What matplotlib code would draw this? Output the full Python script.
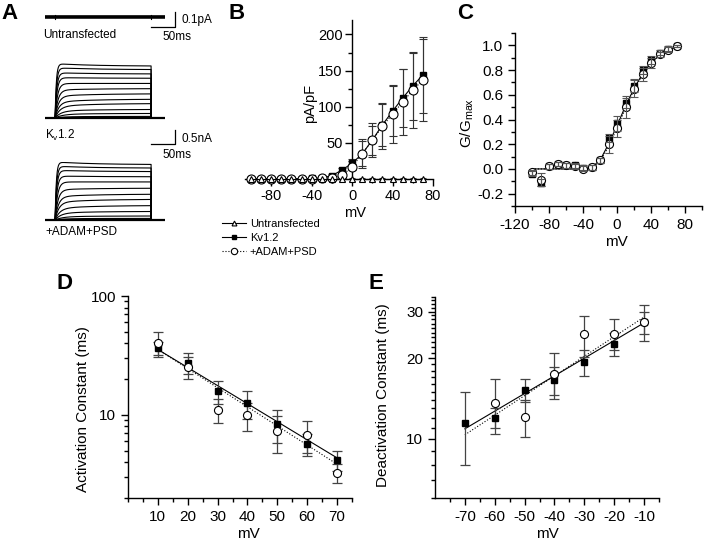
"""
Kv1.2 currents: traces, I-V, G-V and kinetics (panels A-E)
"""

import numpy as np
import matplotlib
matplotlib.use('Agg')
import matplotlib.pyplot as plt
from matplotlib.ticker import FixedLocator, NullFormatter, FixedFormatter

plt.rcParams['font.family'] = ['Liberation Sans', 'DejaVu Sans']
plt.rcParams['axes.unicode_minus'] = False
plt.rcParams['axes.linewidth'] = 1.0
plt.rcParams['xtick.direction'] = 'out'
plt.rcParams['ytick.direction'] = 'out'
plt.rcParams['xtick.major.size'] = 5
plt.rcParams['ytick.major.size'] = 5
plt.rcParams['xtick.minor.size'] = 3
plt.rcParams['ytick.minor.size'] = 3
plt.rcParams['xtick.major.width'] = 1.0
plt.rcParams['ytick.major.width'] = 1.0
plt.rcParams['xtick.minor.width'] = 1.0
plt.rcParams['ytick.minor.width'] = 1.0

# ---------------- data ----------------
# A: current traces (steady amplitude nA, activation tau ms, slow fraction)
step_ms = 200
kv_amp = [1.92, 1.79, 1.63, 1.47, 1.28, 1.09, 0.90, 0.70, 0.54, 0.32, 0.17, 0.06]
adam_amp = [2.05, 1.92, 1.79, 1.60, 1.41, 1.18, 0.96, 0.77, 0.54, 0.32, 0.15, 0.06]
trace_tau = [2.5, 3, 3.5, 4, 5, 6, 7, 8, 10, 12, 15, 18]
trace_slow = [-0.05, -0.04, -0.03, -0.02, 0.0, 0.05, 0.1, 0.15, 0.2, 0.2, 0.2, 0.2]

# B: current density (pA/pF)
iv_mv = [-100, -90, -80, -70, -60, -50, -40, -30, -20, -10, 0, 10, 20, 30, 40, 50, 60, 70]
iv_untr = [0, 0, 0, 0, 0, 0, 0, 0, 0, 0, 0, 0, 0, 0, 0, 0, 0, 0]
iv_untr_err = [2, 2, 2, 2, 2, 2, 2, 2, 2, 2, 2, 2, 2, 2, 2, 2, 2, 2]
iv_kv = [0.5, 0.5, 0.5, 0.5, 0.5, 0.6, 0.8, 1.5, 4.7, 12.6, 21.9, 35, 54, 75, 94, 112, 129, 144]
iv_kv_err = [1, 1, 1, 1, 1, 1, 1, 1, 2, 3, 6, 20, 24, 29, 35, 40, 47, 53]
iv_adam = [0.3, 0.3, 0.3, 0.3, 0.3, 0.3, 0.5, 1, 2, 5, 17, 35, 53.5, 73, 90, 106.5, 123, 137]
iv_adam_err = [1, 1, 1, 1, 1, 1, 1, 1, 1.5, 3, 4, 17, 20, 32, 40, 46, 52, 57]

# C: normalised conductance
gv_kv = [-0.04, -0.11, 0.02, 0.04, 0.03, 0.03, 0.01, 0.015, 0.07, 0.25, 0.37, 0.53,
         0.675, 0.80, 0.88, 0.94, 0.973, 0.995]
gv_kv_err = [0.02, 0.03, 0.02, 0.02, 0.02, 0.02, 0.02, 0.02, 0.02, 0.03, 0.06, 0.04,
             0.05, 0.03, 0.03, 0.02, 0.02, 0.01]
gv_adam = [-0.027, -0.086, 0.02, 0.04, 0.03, 0.02, 0.0, 0.015, 0.07, 0.2, 0.33, 0.5,
           0.65, 0.765, 0.857, 0.927, 0.965, 0.995]
gv_adam_err = [0.02, 0.05, 0.02, 0.02, 0.02, 0.02, 0.02, 0.02, 0.02, 0.07, 0.07, 0.09,
               0.07, 0.05, 0.04, 0.02, 0.02, 0.01]
gv_fit_kv = [0, 0, 0, 0, 0, 0, 0, 0.01, 0.07, 0.2, 0.35, 0.51, 0.65, 0.77, 0.86, 0.92, 0.96, 0.99]
gv_fit_adam = [0, 0, 0, 0, 0, 0, 0, 0.005, 0.06, 0.18, 0.33, 0.49, 0.64, 0.76, 0.85, 0.92, 0.96, 0.99]

# D: activation time constants (ms)
act_mv = [10, 20, 30, 40, 50, 60, 70]
act_kv = [36.6, 27.4, 15.9, 12.6, 8.4, 5.7, 4.2]
act_kv_err = [4.7, 5.5, 3.5, 3.3, 2.6, 1.2, 0.8]
act_adam = [40.3, 25.2, 11.0, 10.0, 7.3, 6.8, 3.26]
act_adam_err = [9.7, 5.3, 2.5, 2.7, 2.5, 2.0, 0.6]
act_fit_mv = [10, 70]
act_fit_kv = [35.5, 4.35]
act_fit_adam = [35.5, 3.85]

# E: deactivation time constants (ms)
deact_mv = [-70, -60, -50, -40, -30, -20, -10]
deact_kv = [11.5, 12.0, 15.2, 16.6, 19.4, 22.7, 27.3]
deact_kv_err = [3.5, 1.0, 1.5, 2.0, 2.2, 2.3, 2.5]
deact_adam_mv = [-60, -50, -40, -30, -20, -10]
deact_adam = [13.6, 12.1, 17.5, 24.6, 24.8, 27.5]
deact_adam_err = [3.2, 1.9, 3.4, 4.3, 3.3, 4.3]
deact_fit_mv = [-70, -10]
deact_fit_kv = [10.9, 27.2]
deact_fit_adam = [10.35, 28.6]

# ---------------- figure ----------------
W, H = 720, 542
fig = plt.figure(figsize=(7.2, 5.42), dpi=100)


def px_axes(x0, y0, x1, y1):
    """Axes placed by pixel box (top-left origin)."""
    return fig.add_axes([x0 / W, 1 - y1 / H, (x1 - x0) / W, (y1 - y0) / H])


def px_text(x, y, s, **kw):
    fig.text(x / W, 1 - y / H, s, **kw)


def simple_spines(ax):
    ax.spines['top'].set_visible(False)
    ax.spines['right'].set_visible(False)


# ---- A: traces
t = np.linspace(-21, 229, 2001)


def trace(amp, tau, slow):
    tt = np.clip(t, 0, None)
    i = amp * (1 - (1 - slow) * np.exp(-tt / tau) - slow * np.exp(-tt / 80))
    return np.where((t >= 0) & (t <= step_ms), i, 0)


# untransfected (pA)
ax_u = px_axes(45, 5, 165, 30)
ax_u.plot(t, np.zeros_like(t), color='black', lw=2.6, solid_capstyle='butt')
ax_u.plot([0, 0], [-0.012, 0.012], color='black', lw=0.8)
ax_u.plot([step_ms, step_ms], [-0.012, 0.012], color='black', lw=0.8)
ax_u.set_xlim(-21, 229)
ax_u.set_ylim(-0.087, 0.08)
ax_u.plot([200, 250, 250], [-0.067, -0.067, 0.033], color='black', lw=0.9, clip_on=False)
ax_u.axis('off')
px_text(182, 20, '0.1pA', fontsize=8.5, va='center')
px_text(162, 37, '50ms', fontsize=8.5, va='center')
px_text(43, 35, 'Untransfected', fontsize=8.5, va='center')

# Kv1.2 (nA)
for amps, base_y in [(kv_amp, 118), (adam_amp, 220)]:
    ax_t = px_axes(45, base_y - 58, 165, base_y + 7)
    for a, tau, sl in zip(amps, trace_tau, trace_slow):
        ax_t.plot(t, trace(a, tau, sl), color='black', lw=0.8)
    ax_t.plot(t, np.zeros_like(t), color='black', lw=1.6)
    ax_t.set_xlim(-21, 229)
    ax_t.set_ylim(-7 / 27, 58 / 27)
    ax_t.axis('off')
    if base_y == 118:
        ax_t.plot([200, 250, 250], [-0.96, -0.96, -0.44], color='black', lw=0.9,
                  clip_on=False)

px_text(181, 139, '0.5nA', fontsize=8.5, va='center')
px_text(162, 155, '50ms', fontsize=8.5, va='center')
px_text(45, 135, 'K$_\\mathregular{v}$1.2', fontsize=8.5, va='center')
px_text(45, 232, '+ADAM+PSD', fontsize=8.5, va='center')

# ---- B: I-V
axB = px_axes(245, 20, 433, 200.75)
axB.errorbar(iv_mv, iv_kv, yerr=iv_kv_err, fmt='none', ecolor='#333333',
             elinewidth=0.8, capsize=3, capthick=0.8, zorder=2)
axB.errorbar(iv_mv, iv_adam, yerr=iv_adam_err, fmt='none', ecolor='#333333',
             elinewidth=0.8, capsize=3, capthick=0.8, zorder=2)
axB.errorbar(iv_mv, iv_untr, yerr=iv_untr_err, fmt='none', ecolor='#333333',
             elinewidth=0.8, capsize=2.5, capthick=0.8, zorder=2)
hB_kv, = axB.plot(iv_mv, iv_kv, '-s', color='black', lw=0.8, ms=5, zorder=3)
hB_ad, = axB.plot(iv_mv, iv_adam, ':o', color='black', lw=0.8, ms=6.5, mfc='white',
                  mew=0.8, zorder=4)
hB_un, = axB.plot(iv_mv, iv_untr, '-^', color='black', lw=0.8, ms=5, mfc='white',
                  mew=0.8, zorder=5)
axB.set_xlim(-106, 80)
axB.set_ylim(-30, 220)
simple_spines(axB)
axB.spines['left'].set_position(('data', 0))
axB.spines['bottom'].set_position(('data', 0))
axB.spines['left'].set_bounds(0, 220)
axB.spines['bottom'].set_bounds(-106, 80)
axB.xaxis.set_major_locator(FixedLocator([-80, -40, 0, 40, 80]))
axB.xaxis.set_minor_locator(FixedLocator([-100, -60, -20, 20, 60]))
axB.yaxis.set_major_locator(FixedLocator([50, 100, 150, 200]))
axB.yaxis.set_minor_locator(FixedLocator([25, 75, 125, 175]))
axB.tick_params(labelsize=10.5, pad=2)
axB.text(-42, 105, 'pA/pF', rotation=90, fontsize=10.5, ha='center', va='center')
axB.set_xlabel('mV', fontsize=10.5)
axB.xaxis.set_label_coords(0.585, -0.03)

leg = fig.legend([hB_un, hB_kv, hB_ad], ['Untransfected', 'Kv1.2', '+ADAM+PSD'],
                 loc='upper left', bbox_to_anchor=(222 / W, 1 - 219 / H),
                 frameon=False, fontsize=8, handlelength=2.2, handletextpad=0.3,
                 labelspacing=0.35, borderpad=0, borderaxespad=0, markerscale=0.7)

# ---- C: G-V
axC = px_axes(515, 33, 702, 206)
axC.plot(iv_mv, gv_fit_kv, '-', color='black', lw=0.8, zorder=2)
axC.plot(iv_mv, gv_fit_adam, ':', color='black', lw=0.8, zorder=2)
axC.plot(iv_mv, gv_kv, 's', color='black', ms=5, zorder=3)
axC.plot(iv_mv, gv_adam, 'o', color='black', mfc='white', ms=5.8, mew=0.8, zorder=4)
axC.errorbar(iv_mv, gv_kv, yerr=gv_kv_err, fmt='none', ecolor='#555555',
             elinewidth=0.8, capsize=3, capthick=0.8, zorder=5)
axC.errorbar(iv_mv, gv_adam, yerr=gv_adam_err, fmt='none', ecolor='#555555',
             elinewidth=0.8, capsize=3, capthick=0.8, zorder=5)
axC.set_xlim(-120, 100)
axC.set_ylim(-0.3, 1.1)
simple_spines(axC)
axC.xaxis.set_major_locator(FixedLocator([-120, -80, -40, 0, 40, 80]))
axC.xaxis.set_minor_locator(FixedLocator([-100, -60, -20, 20, 60, 100]))
axC.yaxis.set_major_locator(FixedLocator([-0.2, 0.0, 0.2, 0.4, 0.6, 0.8, 1.0]))
axC.yaxis.set_minor_locator(FixedLocator([-0.3, -0.1, 0.1, 0.3, 0.5, 0.7, 0.9, 1.1]))
axC.yaxis.set_major_formatter(FixedFormatter(['-0.2', '0.0', '0.2', '0.4', '0.6', '0.8', '1.0']))
axC.tick_params(labelsize=11)
axC.set_xlabel('mV', fontsize=11)
axC.xaxis.set_label_coords(0.545, -0.17)
axC.set_ylabel('G/G$_\\mathregular{max}$', fontsize=11)
axC.yaxis.set_label_coords(-0.21, 0.48)

# ---- D: activation
axD = px_axes(128, 296, 352, 498)
axD.set_yscale('log')
axD.plot(act_fit_mv, act_fit_kv, '-', color='black', lw=0.8, zorder=2)
axD.plot(act_fit_mv, act_fit_adam, ':', color='black', lw=0.8, zorder=2)
axD.errorbar(act_mv, act_kv, yerr=act_kv_err, fmt='none', ecolor='#444444',
             elinewidth=0.9, capsize=3.5, capthick=0.9, zorder=3)
axD.errorbar(act_mv, act_adam, yerr=act_adam_err, fmt='none', ecolor='#444444',
             elinewidth=0.9, capsize=3.5, capthick=0.9, zorder=3)
axD.plot(act_mv, act_kv, 's', color='black', ms=5, zorder=4)
axD.plot(act_mv, act_adam, 'o', color='black', mfc='white', ms=5.8, mew=0.8, zorder=5)
axD.set_xlim(0, 75)
axD.set_ylim(2, 100)
simple_spines(axD)
axD.xaxis.set_major_locator(FixedLocator(act_mv))
axD.xaxis.set_minor_locator(FixedLocator([0, 5, 15, 25, 35, 45, 55, 65, 75]))
axD.yaxis.set_major_locator(FixedLocator([10, 100]))
axD.yaxis.set_major_formatter(FixedFormatter(['10', '100']))
axD.yaxis.set_minor_locator(FixedLocator([2, 3, 4, 5, 6, 7, 8, 9, 20, 30, 40, 50, 60, 70, 80, 90]))
axD.yaxis.set_minor_formatter(NullFormatter())
axD.tick_params(labelsize=11)
axD.set_xlabel('mV', fontsize=11)
axD.xaxis.set_label_coords(0.536, -0.145)
axD.set_ylabel('Activation Constant (ms)', fontsize=11)
axD.yaxis.set_label_coords(-0.17, 0.44)

# ---- E: deactivation
axE = px_axes(435, 297, 659, 498)
axE.set_yscale('log')
axE.plot(deact_fit_mv, deact_fit_kv, '-', color='black', lw=0.8, zorder=2)
axE.plot(deact_fit_mv, deact_fit_adam, ':', color='black', lw=0.8, zorder=2)
axE.errorbar(deact_mv, deact_kv, yerr=deact_kv_err, fmt='none', ecolor='#444444',
             elinewidth=0.9, capsize=3.5, capthick=0.9, zorder=3)
axE.errorbar(deact_adam_mv, deact_adam, yerr=deact_adam_err, fmt='none', ecolor='#444444',
             elinewidth=0.9, capsize=3.5, capthick=0.9, zorder=3)
axE.plot(deact_mv, deact_kv, 's', color='black', ms=5, zorder=4)
axE.plot(deact_adam_mv, deact_adam, 'o', color='black', mfc='white', ms=5.8, mew=0.8, zorder=5)
axE.set_xlim(-80, -5)
axE.set_ylim(6, 34)
simple_spines(axE)
axE.xaxis.set_major_locator(FixedLocator(deact_mv))
axE.xaxis.set_minor_locator(FixedLocator([-75, -65, -55, -45, -35, -25, -15, -5]))
axE.yaxis.set_major_locator(FixedLocator([10, 20, 30]))
axE.yaxis.set_major_formatter(FixedFormatter(['10', '20', '30']))
axE.yaxis.set_minor_locator(FixedLocator([v for v in range(6, 35) if v not in (10, 20, 30)]))
axE.yaxis.set_minor_formatter(NullFormatter())
axE.tick_params(labelsize=11)
axE.set_xlabel('mV', fontsize=11)
axE.xaxis.set_label_coords(0.504, -0.145)
axE.set_ylabel('Deactivation Constant (ms)', fontsize=11)
axE.yaxis.set_label_coords(-0.2, 0.51)

# panel letters
for letter, x, y in [('A', 1, 3), ('B', 229, 3), ('C', 457, 3), ('D', 56, 273), ('E', 368, 273)]:
    px_text(x, y, letter, fontsize=16, fontweight='bold', va='top')

fig.savefig('out.png', dpi=100)
